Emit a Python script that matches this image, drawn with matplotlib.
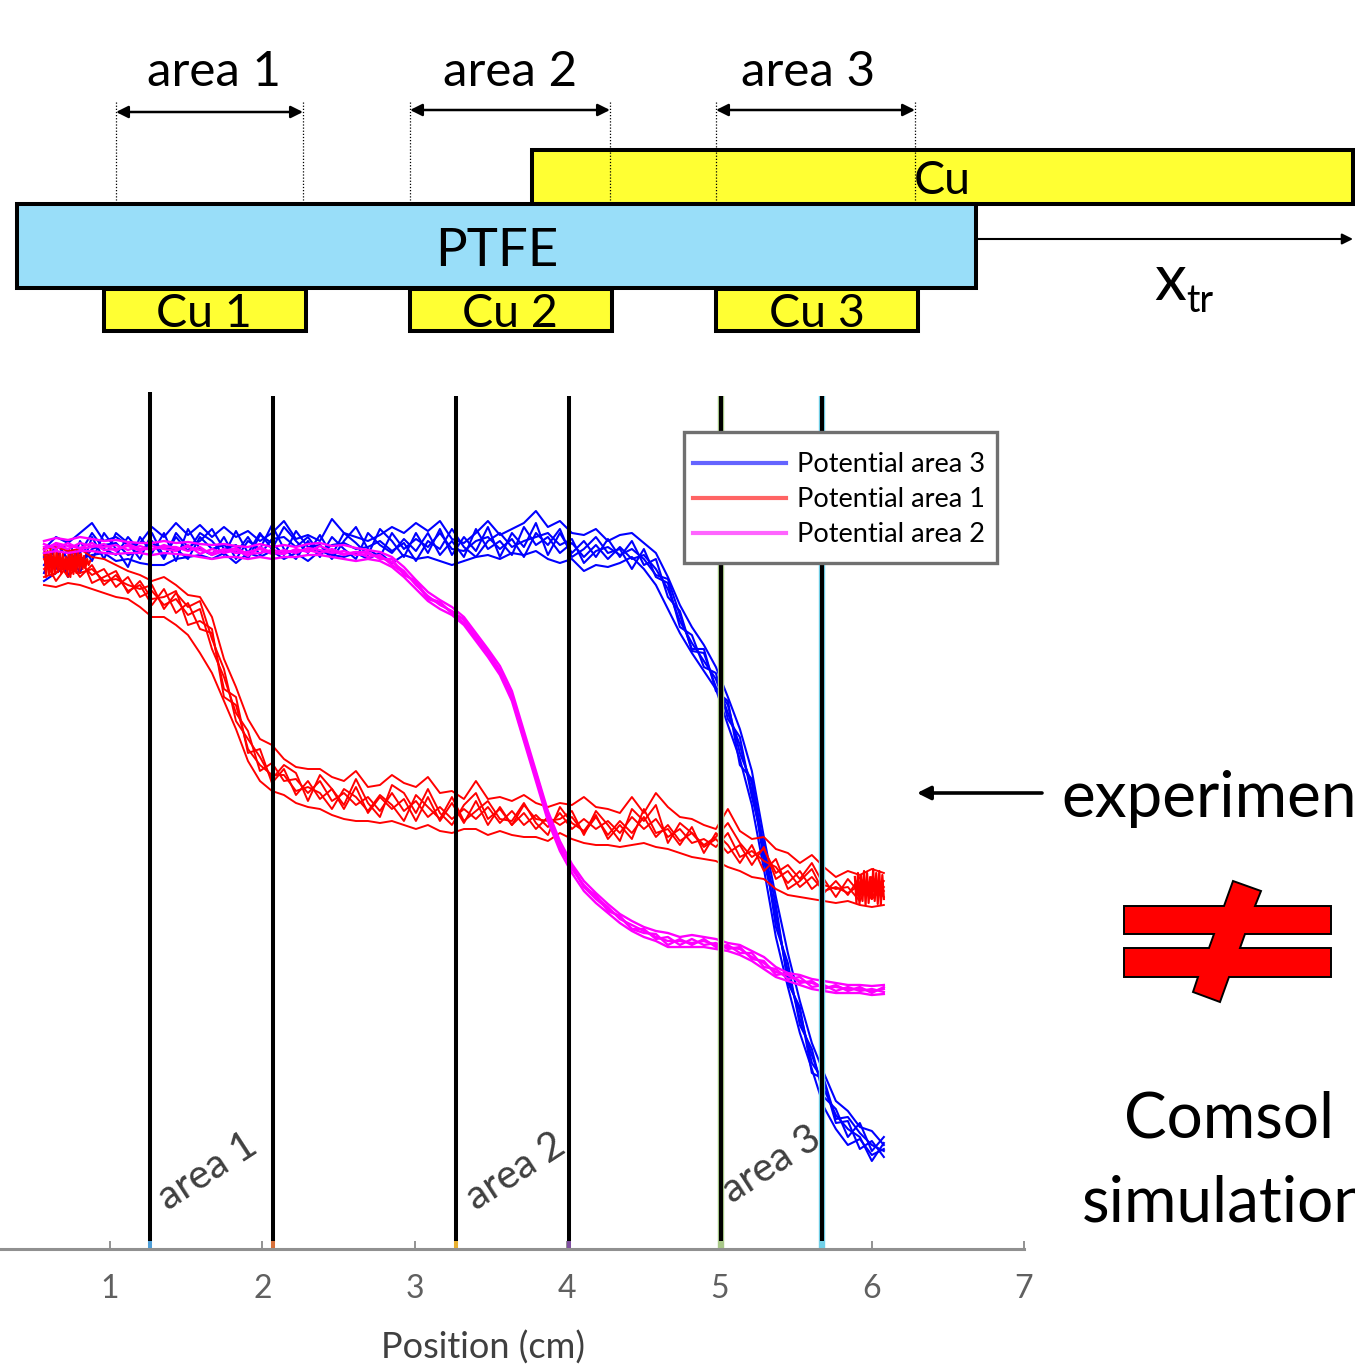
import numpy as np
import matplotlib
matplotlib.use("Agg")
import matplotlib.pyplot as plt
from matplotlib.lines import Line2D
from matplotlib.patches import Rectangle, Polygon

plt.rcParams['font.family'] = ['Lato', 'DejaVu Sans']

# Measured traces, potential in arbitrary units, read every 0.079 cm
blue_a = [700,712,706,716,726,708,712,704,706,722,712,726,714,724,712,722,712,718,708,716,728,710,714,708,730,716,712,708,714,722,716,726,718,728,710,706,716,728,714,720,726,738,722,728,716,714,720,708,714,716,706,696,672,644,622,604,582,552,520,478,412,352,296,248,206,176,148,138,122,118,104]
blue_b = [668,676,684,690,694,696,688,690,686,684,684,690,692,694,690,696,686,696,692,698,690,696,688,698,694,692,696,690,696,686,694,690,692,688,684,688,692,694,690,696,694,698,690,686,690,678,684,682,686,692,680,664,640,616,596,578,560,524,490,444,380,312,262,216,180,142,120,104,110,94,100]
blue_c = [684,700,672,708,688,716,700,682,712,696,716,688,720,700,694,712,690,708,700,724,700,690,708,692,712,700,690,716,704,696,710,698,716,694,708,692,720,700,708,694,722,704,712,696,706,692,704,690,702,690,694,680,660,628,606,588,570,536,504,458,396,330,278,230,194,160,134,120,112,88,106]
blue_d = [692,680,700,676,712,690,716,706,690,716,692,712,698,716,708,694,718,696,716,700,722,708,696,714,694,716,706,694,720,708,692,716,696,720,694,712,698,722,692,716,702,726,694,716,696,708,692,710,692,708,684,690,652,638,598,596,562,544,496,466,388,338,270,238,186,168,126,128,100,108,92]
blue_e = [676,706,690,696,716,700,694,712,698,708,690,716,702,708,720,700,704,690,714,706,694,718,702,704,690,708,722,700,692,716,700,710,702,716,700,698,708,712,700,710,692,716,704,720,692,700,712,696,700,680,700,672,666,622,614,582,576,530,512,452,404,322,286,224,200,152,140,112,126,98,112]
blue_f = [696,690,708,684,700,704,706,694,698,706,700,700,690,712,700,704,696,712,694,710,712,702,712,696,704,706,700,702,708,698,706,688,708,700,720,702,692,708,716,702,708,712,716,704,710,686,698,702,694,700,690,674,670,634,600,600,558,548,484,470,402,344,266,242,176,170,130,132,116,104,98]

red_a = [700,702,698,700,692,690,684,678,674,668,672,664,654,652,632,590,562,530,510,504,490,482,480,480,472,468,478,462,464,474,466,462,472,456,458,450,468,450,452,448,454,446,442,446,444,452,442,440,436,452,436,456,442,432,430,424,420,440,418,410,412,400,396,386,394,382,372,378,374,380,376]
red_b = [664,662,666,664,660,656,652,650,642,632,632,624,614,596,576,548,520,488,468,458,454,446,442,440,434,430,428,428,426,428,424,420,424,418,416,420,420,414,418,414,412,412,408,416,410,406,404,404,402,404,406,402,400,396,392,390,388,382,378,372,370,360,354,352,350,348,346,348,344,342,344]
red_c = [680,690,672,686,674,680,662,672,652,658,644,650,634,640,600,572,536,518,478,486,468,470,456,468,448,456,444,452,438,456,438,448,432,442,430,440,430,442,426,438,424,434,422,436,420,430,420,428,416,432,420,430,412,420,406,410,402,416,392,398,388,382,366,378,360,370,352,370,356,366,352]
red_d = [672,676,690,672,684,664,674,658,664,644,660,636,646,620,616,560,552,496,500,466,480,454,468,450,460,440,462,436,452,440,450,428,452,428,446,426,448,424,442,424,436,420,432,424,432,416,432,414,428,416,432,412,424,408,416,402,410,396,404,384,402,370,378,362,372,358,362,356,364,350,362]
red_e = [690,668,684,694,666,672,678,656,668,650,652,658,624,628,620,552,544,500,484,474,474,458,462,456,440,460,452,438,454,444,428,454,442,430,452,428,438,448,430,428,446,426,414,442,426,418,434,410,424,410,440,416,420,404,422,396,416,404,386,404,378,390,360,368,380,356,368,354,372,352,368]
red_f = [694,684,680,676,680,668,670,664,660,664,640,656,642,648,610,580,528,510,492,470,484,476,448,474,460,444,470,446,432,464,456,436,460,436,424,444,456,430,440,424,444,430,428,430,438,414,438,424,408,440,428,444,406,426,416,404,412,426,406,392,400,376,384,370,386,364,360,362,348,372,358]

magenta_a = [708,711,709,712,710,708,709,707,706,706,708,706,707,705,704,705,703,702,705,702,704,702,705,706,703,704,701,699,697,692,682,669,657,649,642,632,616,600,583,558,518,478,438,408,385,368,356,345,335,328,322,318,316,312,314,312,310,306,304,298,292,282,276,274,270,268,266,264,264,263,264]
magenta_b = [696,698,696,698,698,696,695,696,696,694,696,695,694,692,690,692,692,690,692,690,692,692,694,694,692,690,688,690,688,682,672,660,648,640,634,624,608,592,574,548,508,468,428,398,376,358,346,336,326,318,312,308,302,302,302,302,300,298,294,288,280,272,268,264,260,258,256,256,256,254,255]
magenta_c = [702,704,700,706,703,702,704,699,703,699,704,700,702,699,696,700,696,697,700,695,699,696,701,699,696,698,694,695,692,687,678,664,653,644,638,629,613,597,579,553,514,473,433,404,380,364,352,342,330,324,318,312,308,308,306,308,304,302,300,292,286,277,274,268,266,262,262,260,260,258,260]
magenta_d = [699,706,703,701,706,699,700,703,698,703,700,698,704,695,700,696,699,693,702,696,695,700,697,703,698,694,697,692,694,684,676,666,650,646,636,626,611,595,577,551,510,475,431,402,382,362,350,340,332,320,320,310,312,304,310,304,306,300,302,290,288,274,276,266,268,260,264,258,262,256,262]
magenta_e = [705,700,706,700,702,705,698,705,700,700,702,702,698,702,694,698,701,695,696,699,697,698,699,696,700,695,697,697,690,690,674,668,651,647,636,630,610,598,576,554,512,476,435,400,383,362,354,338,333,320,316,315,304,310,304,310,302,304,296,296,282,280,270,272,262,264,258,262,258,260,257]

# the noisy ends of the red trace, read more closely
red_start_x = [0.57,0.58,0.59,0.60,0.61,0.62,0.63,0.64,0.65,0.66,0.67,0.68,0.69,0.70,0.71,0.72,0.73,0.74,0.75,0.76,0.77,0.78,0.79,0.80,0.81,0.82,0.83,0.84,0.85,0.86,0.87]
red_start = [700,672,698,674,701,673,696,675,700,677,697,676,695,680,692,674,700,672,698,675,697,676,699,678,695,680,693,682,690,684,688]
red_end_x = [5.89,5.90,5.91,5.92,5.93,5.94,5.95,5.96,5.97,5.98,5.99,6.00,6.01,6.02,6.03,6.04,6.05,6.06,6.07,6.08]
red_end = [372,346,376,345,374,348,378,344,376,346,372,350,380,348,376,345,378,344,374,350]

area_edges = [1.265, 2.068, 3.274, 4.01, 5.008, 5.672]
edge_tops = [857, 853, 853, 853, 853, 853]
halo_tops = [8, 8, 8, 8, 853, 853]
halo_widths = [2.9, 2.9, 2.9, 2.9, 4.6, 4.6]
edge_colors = ['#4f9fd8', '#d8703a', '#e8b030', '#8050a0', '#a8c888', '#70d0e8']
tick_pos = [1, 2, 3, 4, 5, 6, 7]
legend_labels = ['Potential area 3', 'Potential area 1', 'Potential area 2']
legend_colors = ['#6464ff', '#ff6464', '#ff64ff']

W, H = 1355, 1370
fig = plt.figure(figsize=(W / 100, H / 100), dpi=100)

# schematic, in picture pixels
sk = fig.add_axes([0, 0, 1, 1])
sk.set_xlim(0, W)
sk.set_ylim(H, 0)
sk.axis('off')

yellow = '#ffff33'
blue_fill = '#99def9'
sk.add_patch(Rectangle((532, 150), 821, 54, fc=yellow, ec='k', lw=2.9))
sk.add_patch(Rectangle((17, 204), 959, 84, fc=blue_fill, ec='k', lw=2.9))
for x0 in [104, 410, 716]:
    sk.add_patch(Rectangle((x0, 289), 202, 42, fc=yellow, ec='k', lw=2.9))

for x0, y1 in [(116, 200), (303, 200), (410, 200), (610, 200), (716, 200), (915, 200)]:
    sk.plot([x0, x0], [102, y1], color='k', lw=0.9, ls=(0, (1, 1.5)))
for x0, x1, yy in [(116, 303, 112), (410, 610, 110), (716, 915, 110)]:
    sk.annotate('', xy=(x1, yy), xytext=(x0, yy),
                arrowprops=dict(arrowstyle='<|-|>', color='k', lw=1.8, shrinkA=0, shrinkB=0, mutation_scale=18))

for txt, xc in [('area 1', 214), ('area 2', 510), ('area 3', 808)]:
    sk.text(xc, 72, txt, fontsize=35.5, ha='center', va='center')
sk.text(942, 181, 'Cu', fontsize=33.5, ha='center', va='center')
sk.text(497, 251, 'PTFE', fontsize=38, ha='center', va='center')
for txt, xc in [('Cu 1', 204), ('Cu 2', 510), ('Cu 3', 817)]:
    sk.text(xc, 314, txt, fontsize=33.5, ha='center', va='center')

sk.annotate('', xy=(1353, 239), xytext=(977, 239),
            arrowprops=dict(arrowstyle='-|>', color='k', lw=1.5, shrinkA=0, shrinkB=0, mutation_scale=16))
sk.text(1154, 282, 'x', fontsize=46, ha='left', va='center')
sk.text(1186, 301, 'tr', fontsize=27, ha='left', va='center')

sk.annotate('', xy=(917, 793), xytext=(1042, 793),
            arrowprops=dict(arrowstyle='-|>', color='k', lw=2.6, shrinkA=0, shrinkB=0, mutation_scale=20))
sk.text(1061, 799, 'experiment', fontsize=46, ha='left', va='center')
sk.text(1229, 1120, 'Comsol', fontsize=46, ha='center', va='center')
sk.text(1082, 1204, 'simulation', fontsize=46, ha='left', va='center')

# not-equal sign, one outline
sk.add_patch(Polygon([(1124, 906), (1224, 906), (1233, 881), (1261, 891), (1255, 906), (1331, 906),
                      (1331, 934), (1245, 934), (1240, 948), (1331, 948), (1331, 977), (1229, 977),
                      (1220, 1002), (1193, 992), (1198, 977), (1124, 977), (1124, 948), (1209, 948),
                      (1214, 934), (1124, 934)], fc='#ff0000', ec='k', lw=1.4))

sk.text(208, 1172, 'area 1', fontsize=29, rotation=33, color='#404040', ha='center', va='center')
sk.text(516, 1172, 'area 2', fontsize=29, rotation=33, color='#404040', ha='center', va='center')
sk.text(772, 1165, 'area 3', fontsize=29, rotation=33, color='#404040', ha='center', va='center')

# measurements
left = 0.0
right = 1024 / W
bottom = (H - 1249) / H
top = (H - 392) / H
ax = fig.add_axes([left, bottom, right - left, top - bottom])
ax.patch.set_alpha(0)
ax.set_xlim(1 + (0 - 110) / 152.4, 7)
ax.set_ylim(0, 857)

x_grid = np.linspace(0.567, 6.08, len(blue_a))
for tr in [blue_a, blue_b, blue_c, blue_d, blue_e, blue_f]:
    ax.plot(x_grid, tr, color='#0000ff', lw=1.5)
for tr in [red_a, red_b, red_c, red_d, red_e, red_f]:
    ax.plot(x_grid, tr, color='#ff0000', lw=1.4)
ax.plot(red_start_x, red_start, color='#ff0000', lw=1.6)
ax.plot(red_end_x, red_end, color='#ff0000', lw=1.6)
for tr in [magenta_a, magenta_b, magenta_c, magenta_d, magenta_e]:
    ax.plot(x_grid, tr, color='#ff00ff', lw=1.7)

for xe, te, he, hw, ce in zip(area_edges, edge_tops, halo_tops, halo_widths, edge_colors):
    ax.plot([xe, xe], [0, he], color=ce, lw=hw, solid_capstyle='butt')
    ax.plot([xe, xe], [8, te], color='k', lw=2.9, solid_capstyle='butt')

for name in ['top', 'left', 'right']:
    ax.spines[name].set_visible(False)
ax.spines['bottom'].set_color('#909090')
ax.spines['bottom'].set_linewidth(2.2)
ax.set_yticks([])
ax.set_xticks(tick_pos)
ax.tick_params(axis='x', direction='in', length=6, width=1.2, color='#808080',
               labelcolor='#606060', labelsize=23, pad=18)
ax.set_xlabel('Position (cm)', fontsize=26, color='#404040')
ax.xaxis.set_label_coords(483 / 1024, -(1331 - 1249) / 857)

# legend frame and legend
frame = Rectangle((684, 432), 313, 131, fc='white', ec='#707070', lw=2.4,
                  transform=sk.transData, zorder=4, clip_on=False)
ax.add_patch(frame)
handles = [Line2D([], [], color=c, lw=3) for c in legend_colors]
leg = ax.legend(handles, legend_labels, loc='upper left', bbox_to_anchor=(693 / 1024, (1249 - 452) / 857),
                fontsize=19.5, frameon=False, handlelength=3.45, handletextpad=0.4,
                labelspacing=0.37, borderpad=0, borderaxespad=0)

fig.savefig('out.png', dpi=100)
